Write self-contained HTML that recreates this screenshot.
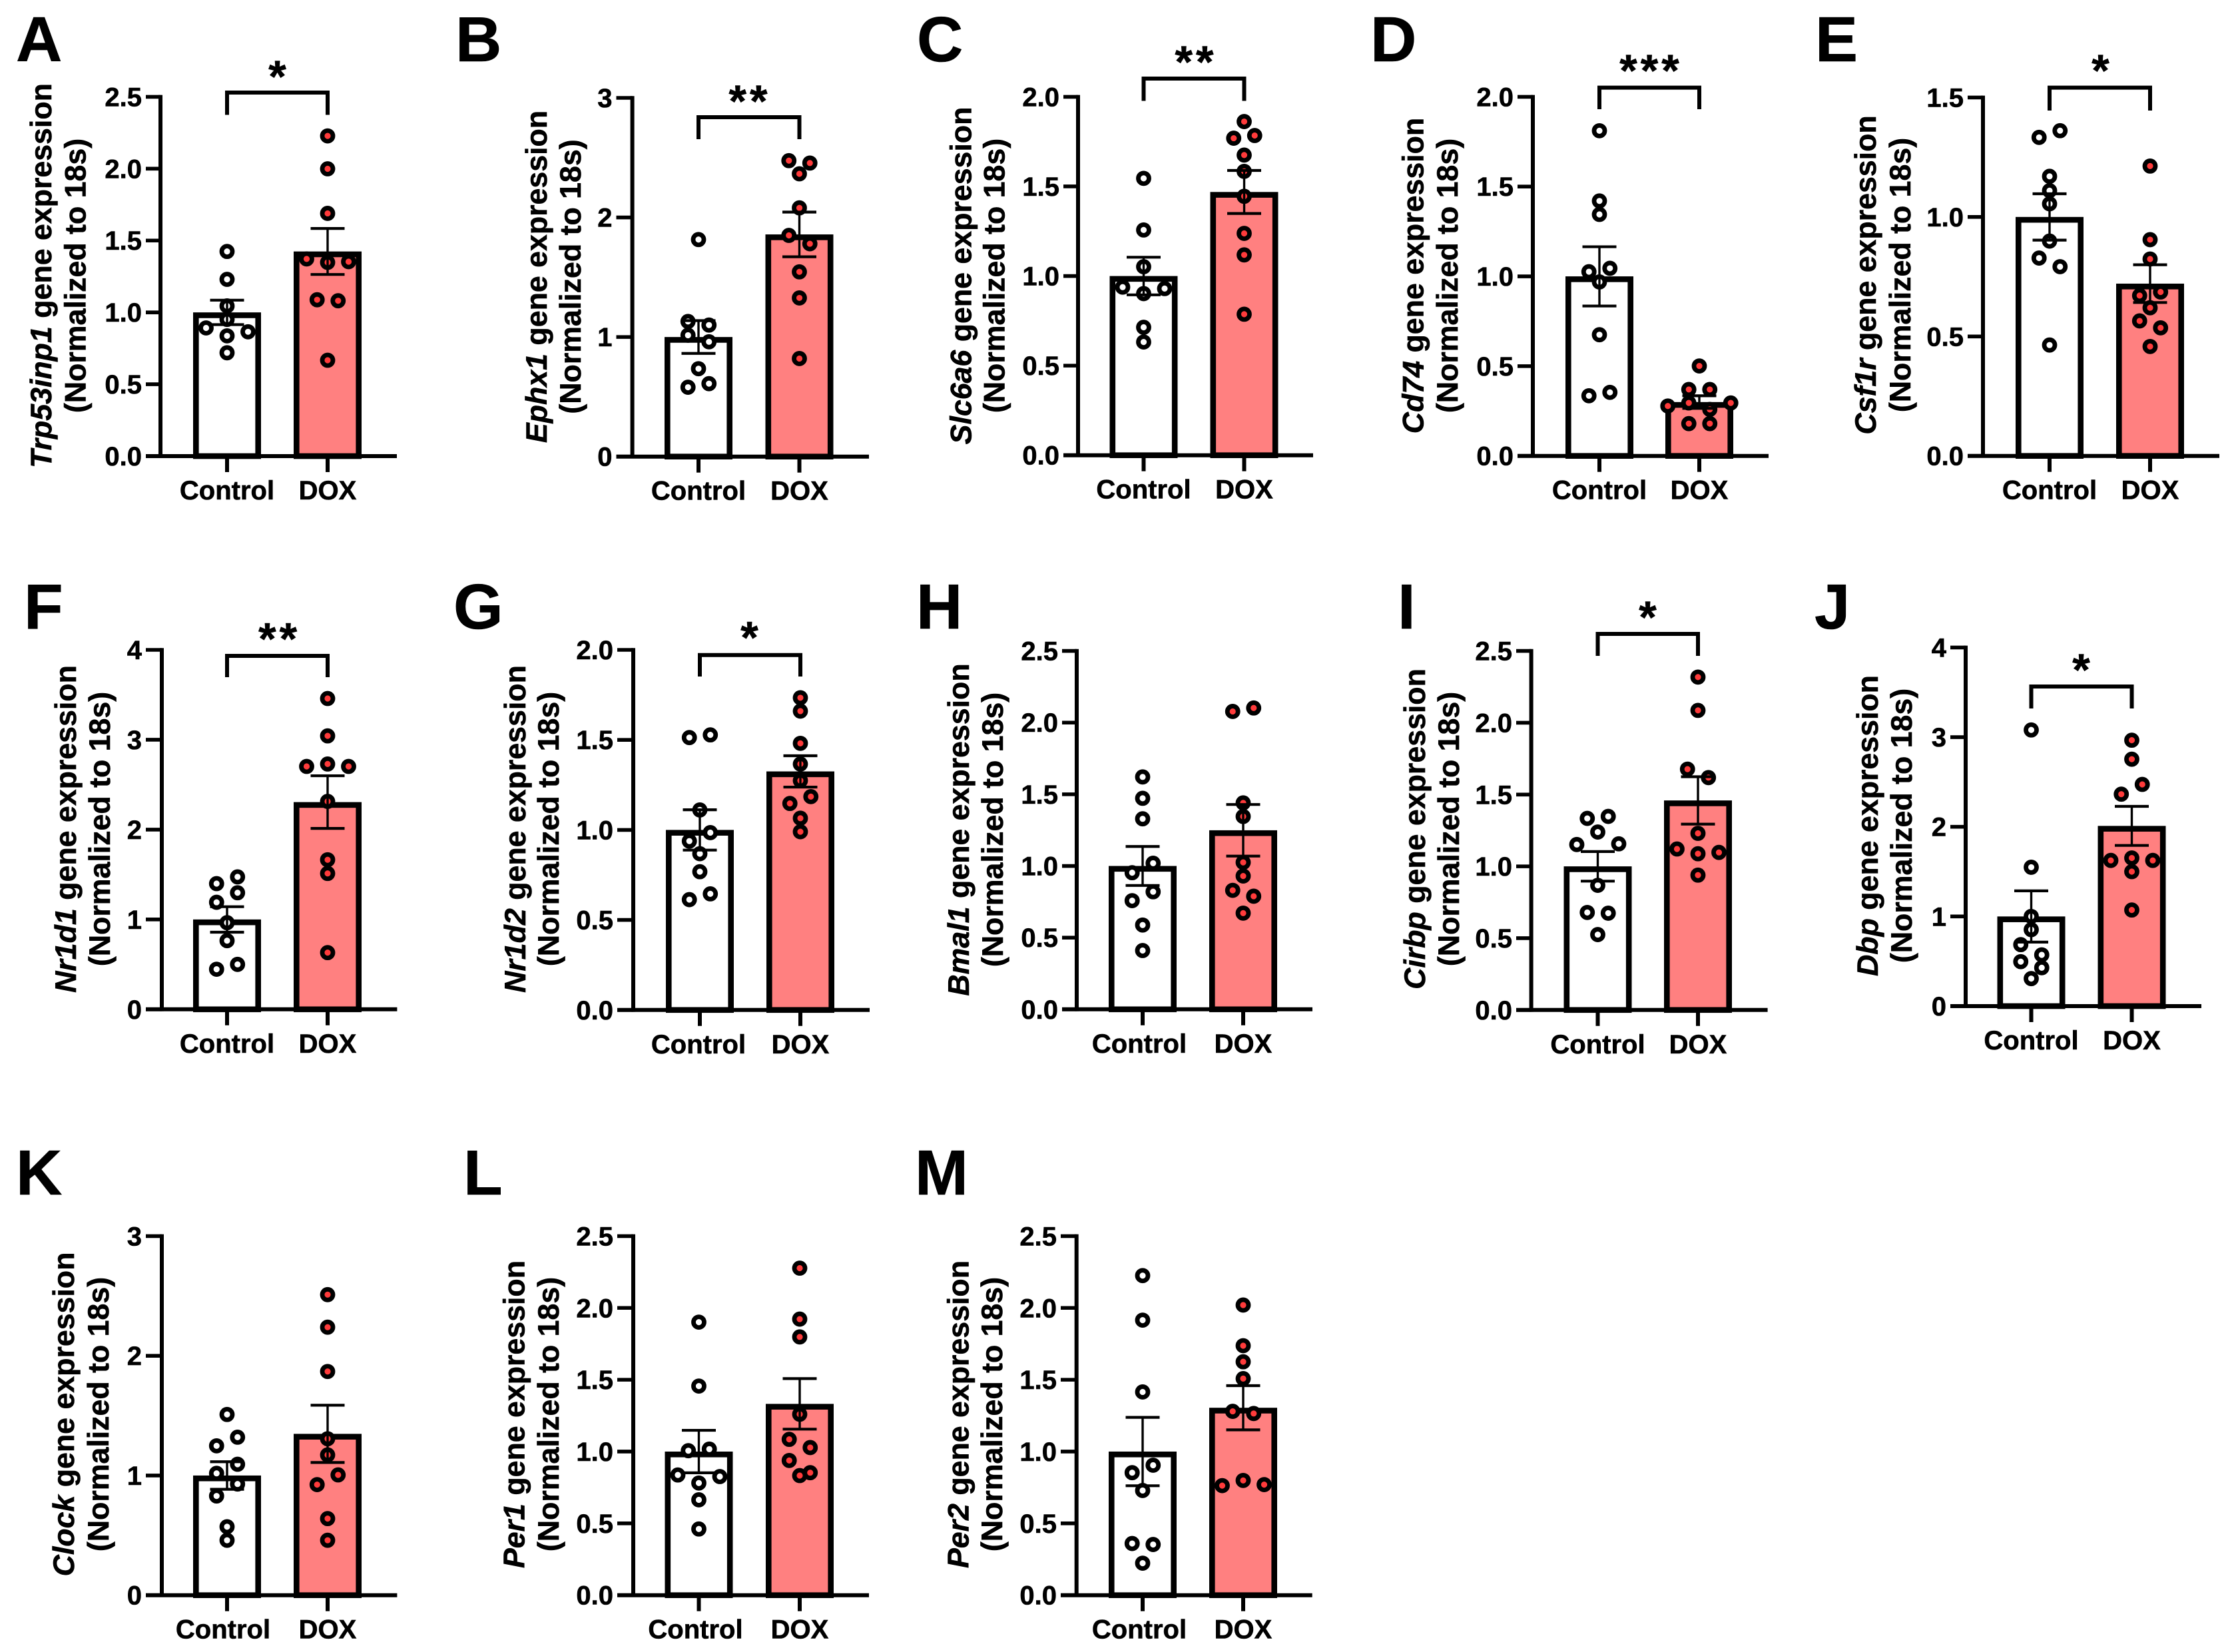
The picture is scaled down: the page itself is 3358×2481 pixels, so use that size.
<!DOCTYPE html>
<html lang="en">
<head>
<meta charset="utf-8">
<title>Gene expression panels: Control vs DOX</title>
<style>
  html, body { margin: 0; padding: 0; background: #ffffff; }
  #figure { display: block; width: 3358px; height: 2481px; background: #ffffff; }
  text { font-family: "Liberation Sans", Arial, sans-serif; font-weight: 700; fill: #000000; stroke: #000000; stroke-width: 0.6px; }
</style>
</head>
<body>
<svg id="figure" xmlns="http://www.w3.org/2000/svg" width="3358" height="2481" viewBox="0 0 3358 2481"></svg>
<script>
// ---------- chart data ----------
const panelLetters = ["A","B","C","D","E","F","G","H","I","J","K","L","M"];
const geneNames = ["Trp53inp1","Ephx1","Slc6a6","Cd74","Csf1r","Nr1d1","Nr1d2","Bmal1","Cirbp","Dbp","Clock","Per1","Per2"];
const categories = ["Control","DOX"];

const ticksA = ["0.0","0.5","1.0","1.5","2.0","2.5"];
const ticksB = ["0","1","2","3"];
const ticksC = ["0.0","0.5","1.0","1.5","2.0"];
const ticksD = ["0.0","0.5","1.0","1.5","2.0"];
const ticksE = ["0.0","0.5","1.0","1.5"];
const ticksF = ["0","1","2","3","4"];
const ticksG = ["0.0","0.5","1.0","1.5","2.0"];
const ticksH = ["0.0","0.5","1.0","1.5","2.0","2.5"];
const ticksI = ["0.0","0.5","1.0","1.5","2.0","2.5"];
const ticksJ = ["0","1","2","3","4"];
const ticksK = ["0","1","2","3"];
const ticksL = ["0.0","0.5","1.0","1.5","2.0","2.5"];
const ticksM = ["0.0","0.5","1.0","1.5","2.0","2.5"];
const tickLabels = [ticksA,ticksB,ticksC,ticksD,ticksE,ticksF,ticksG,ticksH,ticksI,ticksJ,ticksK,ticksL,ticksM];

const controlMeans = [1,1,1,1,1,1,1,1,1,1,1,1,1];
const doxMeans = [1.424,1.858,1.469,0.30,0.721,2.306,1.325,1.249,1.459,2.01,1.348,1.332,1.305];
const controlSem = [0.085,0.137,0.105,0.165,0.097,0.142,0.112,0.136,0.103,0.286,0.115,0.148,0.238];
const doxSem = [0.16,0.187,0.12,0.035,0.079,0.293,0.087,0.18,0.165,0.218,0.239,0.176,0.154];

const controlA = [1.424,1.23,1.045,0.951,0.892,0.865,0.837,0.719];
const doxA = [2.228,1.999,1.689,1.348,1.372,1.353,1.088,1.081,0.667];
const controlB = [1.815,1.13,1.10,1.015,0.96,0.735,0.58,0.61];
const doxB = [2.475,2.455,2.365,2.08,1.85,1.78,1.545,1.327,0.82];
const controlC = [1.545,1.257,1.052,0.902,0.938,0.93,0.714,0.632];
const doxC = [1.862,1.769,1.784,1.675,1.584,1.445,1.238,1.118,0.787];
const controlD = [1.811,1.42,1.345,1.026,1.045,0.969,0.675,0.335,0.354];
const doxD = [0.501,0.37,0.37,0.295,0.259,0.278,0.295,0.18,0.18];
const controlE = [1.333,1.361,1.17,1.11,1.055,0.899,0.828,0.792,0.464];
const doxE = [1.213,0.905,0.824,0.671,0.686,0.62,0.565,0.536,0.458];
const controlF = [1.399,1.474,1.191,1.297,0.964,0.764,0.446,0.5];
const doxF = [3.459,3.043,2.73,2.703,2.703,2.314,1.664,1.512,0.631];
const controlG = [1.513,1.528,1.111,0.938,0.985,0.868,0.768,0.613,0.645];
const doxG = [1.734,1.66,1.481,1.366,1.274,1.147,1.185,1.065,0.99];
const controlH = [1.621,1.472,1.329,0.953,1.019,0.758,0.82,0.588,0.41];
const doxH = [2.078,2.102,1.44,1.345,1.025,0.93,0.83,0.789,0.671];
const controlI = [1.334,1.348,1.239,1.152,1.157,0.868,0.679,0.674,0.525];
const doxI = [2.318,2.086,1.677,1.618,1.23,1.088,1.121,1.097,0.939];
const controlJ = [3.08,1.549,1.0,0.853,0.686,0.572,0.496,0.428,0.307];
const doxJ = [2.966,2.754,2.364,2.473,1.652,1.625,1.625,1.5,1.072];
const controlK = [1.51,1.248,1.32,1.018,1.094,0.829,0.929,0.572,0.459];
const doxK = [2.511,2.239,1.869,1.307,1.172,0.924,1.005,0.64,0.459];
const controlL = [1.901,1.456,1.006,1.017,0.781,0.837,0.826,0.664,0.461];
const doxL = [2.277,1.922,1.798,1.26,1.085,1.028,0.938,0.833,0.853];
const controlM = [2.225,1.915,1.415,0.853,0.905,0.729,0.36,0.353,0.223];
const doxM = [2.02,1.737,1.625,1.508,1.28,1.265,0.799,0.763,0.77];
const controlValues = [controlA,controlB,controlC,controlD,controlE,controlF,controlG,controlH,controlI,controlJ,controlK,controlL,controlM];
const doxValues = [doxA,doxB,doxC,doxD,doxE,doxF,doxG,doxH,doxI,doxJ,doxK,doxL,doxM];

const significance = ["*","**","**","***","*","**","*","","*","*","","",""];

// ---------- layout of each panel (geometry, not data) ----------
const layoutA = {lx:24,ly:92,axis:241,tl:219,top:145.4,base:685,right:596,c:341,d:492,t1:77,t2:128.6,ty:414,br:[139,172.5],star:[419,106]};
const layoutB = {lx:684,ly:92,axis:949.6,tl:925.5,top:147,base:685.7,right:1305,c:1049,d:1200.5,t1:821,t2:872,ty:415.5,br:[176,209],star:[1126,143]};
const layoutC = {lx:1377,ly:92,axis:1619,tl:1597,top:145.4,base:683.7,right:1972,c:1717.5,d:1868.5,t1:1458.6,t2:1508.6,ty:414,br:[118,151.5],star:[1796,84]};
const layoutD = {lx:2058,ly:92,axis:2302,tl:2279,top:145.4,base:684.7,right:2656,c:2402,d:2552,t1:2137.5,t2:2189,ty:414,br:[131.6,164],star:[2479.5,97]};
const layoutE = {lx:2726,ly:92,axis:2978,tl:2955,top:146.4,base:684.7,right:3333,c:3078,d:3229,t1:2817,t2:2869,ty:413,br:[131.6,166],star:[3157,97]};
const layoutF = {lx:36,ly:944,axis:243,tl:219,top:976,base:1515.8,right:596.4,c:341,d:492,t1:114,t2:165,ty:1245,br:[985,1017],star:[419.6,950.5]};
const layoutG = {lx:681,ly:944,axis:951,tl:927,top:976,base:1516.8,right:1306,c:1051,d:1202,t1:789,t2:839,ty:1245,br:[983.7,1016],star:[1128,948.5],shift:-2};
const layoutH = {lx:1376,ly:944,axis:1617,tl:1595,top:977.6,base:1515.8,right:1971,c:1716,d:1867,t1:1455,t2:1506,ty:1246,shift:-5};
const layoutI = {lx:2099,ly:944,axis:2299.6,tl:2277,top:977.6,base:1516.8,right:2654.6,c:2399.5,d:2550,t1:2140,t2:2191,ty:1245,br:[952,985],star:[2477,918]};
const layoutJ = {lx:2725,ly:944,axis:2952,tl:2929,top:972.4,base:1511,right:3306,c:3050.5,d:3201.5,t1:2820,t2:2871,ty:1240,br:[1031,1064],star:[3128,997]};
const layoutK = {lx:24,ly:1794,axis:243,tl:219,top:1856.4,base:2395.7,right:596.4,c:341,d:492,t1:111,t2:163,ty:2124,shift:-6};
const layoutL = {lx:696,ly:1794,axis:951,tl:927,top:1856.4,base:2395.7,right:1305,c:1049.5,d:1201,t1:787.5,t2:839,ty:2124,shift:-5};
const layoutM = {lx:1374,ly:1794,axis:1616.7,tl:1593,top:1856.4,base:2395.7,right:1970.7,c:1716,d:1867,t1:1454.6,t2:1505,ty:2124,shift:-5};
const layouts = [layoutA,layoutB,layoutC,layoutD,layoutE,layoutF,layoutG,layoutH,layoutI,layoutJ,layoutK,layoutL,layoutM];

// ---------- drawing ----------
const NS = "http://www.w3.org/2000/svg";
const figure = document.getElementById("figure");
const PINK = "#FF8080";
const RED = "#FF3B3B";
const SLOT = 31.5;
const CLUSTER_PX = 19.5;

function makeLine(parent, x1, y1, x2, y2, width, name) {
  const el = document.createElementNS(NS, "line");
  el.setAttribute("x1", x1);
  el.setAttribute("y1", y1);
  el.setAttribute("x2", x2);
  el.setAttribute("y2", y2);
  el.setAttribute("stroke", "#000");
  el.setAttribute("stroke-width", width);
  
  
  parent.appendChild(el);
  return el;
}

function makeText(parent, str, x, y, size, anchor, name) {
  const el = document.createElementNS(NS, "text");
  el.setAttribute("x", x);
  el.setAttribute("y", y);
  el.setAttribute("font-size", size);
  el.setAttribute("text-anchor", anchor);
  
  
  el.textContent = str;
  parent.appendChild(el);
  return el;
}

// Swarm layout: nearby values share a row and spread out symmetrically.
function swarmOffsets(values, pxPerUnit) {
  const order = values.map((v, i) => i).sort((a, b) => values[b] - values[a]);
  const offsets = new Array(values.length).fill(0);
  let i = 0;
  while (i < order.length) {
    const topValue = values[order[i]];
    const cluster = [];
    while (i < order.length && (topValue - values[order[i]]) * pxPerUnit <= CLUSTER_PX) {
      cluster.push(order[i]);
      i++;
    }
    cluster.sort((a, b) => a - b);
    const slots = cluster.length % 2 ? [0, -1, 1, -2, 2, -3, 3] : [-0.5, 0.5, -1.5, 1.5, -2.5, 2.5];
    cluster.forEach((idx, k) => { offsets[idx] = slots[k] * SLOT; });
  }
  return offsets;
}

function drawBar(g, cx, base, yScale, mean, fill, name) {
  const w = 102, b = 8.6;
  const top = yScale(mean);
  const el = document.createElementNS(NS, "rect");
  el.setAttribute("x", cx - w / 2 + b / 2);
  el.setAttribute("y", top + b / 2);
  el.setAttribute("width", w - b);
  el.setAttribute("height", Math.max(0, base - top - b / 2));
  el.setAttribute("fill", fill);
  el.setAttribute("stroke", "#000");
  el.setAttribute("stroke-width", b);
  
  
  g.appendChild(el);
}

function drawDots(g, cx, values, yScale, pxPerUnit, fill, name) {
  const offs = swarmOffsets(values, pxPerUnit);
  values.forEach((v, i) => {
    const el = document.createElementNS(NS, "circle");
    el.setAttribute("cx", cx + offs[i]);
    el.setAttribute("cy", yScale(v));
    el.setAttribute("r", 8);
    el.setAttribute("fill", fill);
    el.setAttribute("stroke", "#000");
    el.setAttribute("stroke-width", 6.8);
    
    
    g.appendChild(el);
  });
}

function drawError(g, cx, mean, sem, yScale, name) {
  const hi = yScale(mean + sem), lo = yScale(mean - sem);
  makeLine(g, cx, hi, cx, lo, 3.4, name + "-stem");
  makeLine(g, cx - 25.5, hi, cx + 25.5, hi, 4.2, name + "-cap-upper");
  makeLine(g, cx - 25.5, lo, cx + 25.5, lo, 4.2, name + "-cap-lower");
}

function drawPanel(i) {
  const L = layouts[i];
  const labels = tickLabels[i];
  const yMax = parseFloat(labels[labels.length - 1]);
  const pxPerUnit = (L.base - L.top) / yMax;
  const yScale = v => L.base - v * pxPerUnit;

  const g = document.createElementNS(NS, "g");
  
  
  figure.appendChild(g);

  // panel letter
  makeText(g, panelLetters[i], L.lx, L.ly, 96, "start", "panel-letter");

  // y title (two rotated lines)
  const title1 = document.createElementNS(NS, "text");
  title1.setAttribute("transform", "translate(" + L.t1 + "," + L.ty + ") rotate(-90)");
  title1.setAttribute("font-size", 44.7);
  title1.setAttribute("text-anchor", "middle");
  
  
  const gene = document.createElementNS(NS, "tspan");
  gene.setAttribute("font-style", "italic");
  
  
  gene.textContent = geneNames[i];
  title1.appendChild(gene);
  title1.appendChild(document.createTextNode(" gene expression"));
  g.appendChild(title1);

  const title2 = document.createElementNS(NS, "text");
  title2.setAttribute("transform", "translate(" + L.t2 + "," + L.ty + ") rotate(-90)");
  title2.setAttribute("font-size", 44.7);
  title2.setAttribute("text-anchor", "middle");
  
  
  title2.textContent = "(Normalized to 18s)";
  g.appendChild(title2);

  // bars, dots, error bars
  drawBar(g, L.c, L.base, yScale, controlMeans[i], "#FFFFFF", "bar-control");
  drawBar(g, L.d, L.base, yScale, doxMeans[i], PINK, "bar-dox");
  drawDots(g, L.c, controlValues[i], yScale, pxPerUnit, "#FFFFFF", "point-control");
  drawDots(g, L.d, doxValues[i], yScale, pxPerUnit, RED, "point-dox");
  drawError(g, L.c, controlMeans[i], controlSem[i], yScale, "error-control");
  drawError(g, L.d, doxMeans[i], doxSem[i], yScale, "error-dox");

  // axes
  makeLine(g, L.axis, L.top - 2.8, L.axis, L.base + 2.8, 6, "y-axis-line");
  makeLine(g, L.tl, L.base, L.right, L.base, 6, "x-axis-line");
  labels.forEach(lab => {
    const v = parseFloat(lab);
    const y = yScale(v);
    makeLine(g, L.tl, y, L.axis, y, 5.6, "y-tick");
    makeText(g, lab, L.tl - 6, y + 14, 40, "end", "y-tick-label");
  });
  [L.c, L.d].forEach((x, k) => {
    makeLine(g, x, L.base, x, L.base + 24, 6, "x-tick");
    const shift = k === 0 && L.shift ? L.shift : 0;
    makeText(g, categories[k], x + shift, L.base + 65, 40, "middle", "x-tick-label");
  });

  // significance bracket
  if (significance[i]) {
    const path = document.createElementNS(NS, "path");
    path.setAttribute("d", "M" + L.c + " " + L.br[1] + "V" + L.br[0] + "H" + L.d + "V" + L.br[1]);
    path.setAttribute("fill", "none");
    path.setAttribute("stroke", "#000");
    path.setAttribute("stroke-width", 6);
    
    
    g.appendChild(path);
    const star = makeText(g, significance[i], L.star[0], L.star[1] + 32, 68, "middle", "significance-stars");
    star.setAttribute("letter-spacing", "5");
  }
}

panelLetters.forEach((_, i) => drawPanel(i));
</script>
</body>
</html>
